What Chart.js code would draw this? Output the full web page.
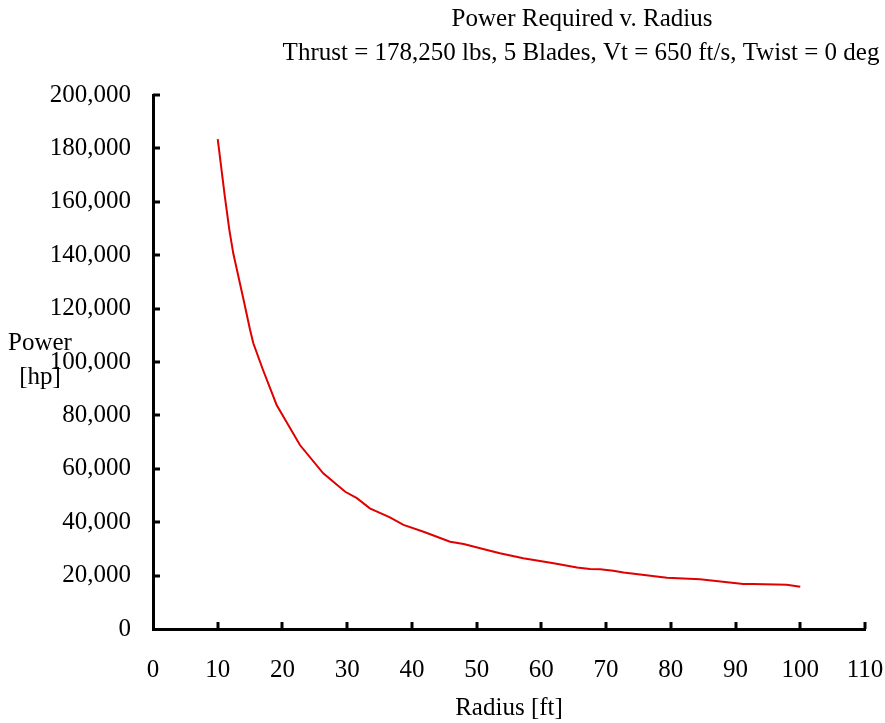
<!DOCTYPE html>
<html>
<head>
<meta charset="utf-8">
<script src="https://cdn.jsdelivr.net/npm/chart.js@4"></script>
<style>
  html, body { margin: 0; padding: 0; background: #fff; }
  #wrap { width: 885px; height: 723px; }
</style>
</head>
<body>
<div id="wrap"><canvas id="grafico"></canvas></div>
<script>
'use strict'

// radius [ft] and power [hp]
const radius = [10, 11.1, 11.8, 12.4, 14, 15, 15.5, 17, 19.1, 22.7, 26.3, 29.7, 31.5, 33.5, 36.6, 38.7,
  41.8, 45.9, 48, 51.6, 53.6, 57.2, 61.9, 65.5, 67.5, 69.1, 71.1, 72.7, 79.4, 84.5, 91.2, 92.7, 97.9, 100];
const power = [183500, 161900, 149400, 140700, 123200, 112000, 107000, 97000, 83900, 68900, 58300, 51400,
  49000, 45200, 41800, 39000, 36400, 32700, 31800, 29600, 28350, 26500, 24600, 23000, 22500, 22350,
  21850, 21200, 19200, 18600, 16850, 16850, 16600, 15850];

const titleLines = ['Power Required v. Radius', 'Thrust = 178,250 lbs, 5 Blades, Vt = 650 ft/s, Twist = 0 deg'];
const yLabelLines = ['Power', '[hp]'];
const xLabel = 'Radius [ft]';

const serif = '"Liberation Serif", "Times New Roman", serif';

// inward tick marks + title + y label drawn as text
const extras = {
  id: 'extras',
  afterDraw(chart) {
    const ctx = chart.ctx;
    const xs = chart.scales.x, ys = chart.scales.y;
    const area = chart.chartArea;
    ctx.save();
    ctx.strokeStyle = '#000';
    ctx.lineWidth = 3;
    xs.ticks.forEach(t => {
      const px = Math.round(xs.getPixelForValue(t.value));
      if (t.value === 0) return;
      ctx.beginPath();
      ctx.moveTo(px, area.bottom);
      ctx.lineTo(px, area.bottom - 7);
      ctx.stroke();
    });
    ys.ticks.forEach(t => {
      const py = Math.round(ys.getPixelForValue(t.value));
      if (t.value === 0) return;
      ctx.beginPath();
      ctx.moveTo(area.left, py);
      ctx.lineTo(area.left + 7, py);
      ctx.stroke();
    });

    ctx.fillStyle = '#000';
    ctx.textAlign = 'center';
    ctx.textBaseline = 'alphabetic';
    ctx.font = '25px ' + serif;
    ctx.fillText(titleLines[0], 582, 26);
    ctx.fillText(titleLines[1], 581, 60);

    ctx.font = '25px ' + serif;
    ctx.fillText(yLabelLines[0], 40, 350);
    ctx.fillText(yLabelLines[1], 40, 384);
    ctx.restore();
  }
};

const data = {
  datasets: [{
    label: 'Power',
    data: radius.map((r, i) => ({ x: r, y: power[i] })),
    borderColor: '#e00000',
    borderWidth: 2,
    pointRadius: 0,
    tension: 0,
    fill: false
  }]
};

const config = {
  type: 'line',
  data,
  options: {
    responsive: true,
    maintainAspectRatio: false,
    animation: false,
    layout: { padding: { top: 95, right: 20, left: 0, bottom: 0 } },
    plugins: {
      legend: { display: false },
      tooltip: { enabled: false }
    },
    scales: {
      x: {
        type: 'linear',
        min: 0,
        max: 110,
        ticks: { stepSize: 10, padding: 0, color: '#000', font: { family: serif, size: 25 } },
        grid: { drawOnChartArea: false, drawTicks: true, tickLength: 26, tickColor: 'rgba(0,0,0,0)' },
        border: { color: '#000', width: 3 },
        title: { display: true, text: xLabel, color: '#000', padding: { top: 10, bottom: 0 }, font: { family: serif, size: 25 } },
        afterFit(s) { s.height = 94; }
      },
      y: {
        min: 0,
        max: 200000,
        ticks: {
          stepSize: 20000,
          padding: 22,
          color: '#000',
          font: { family: serif, size: 25 },
          callback: v => v.toLocaleString('en-US')
        },
        grid: { drawOnChartArea: false, drawTicks: false },
        border: { color: '#000', width: 3 },
        afterFit(s) { s.width = 153; }
      }
    }
  },
  plugins: [extras]
};

const GraficoPotencia = new Chart(document.querySelector('#grafico'), config);
</script>
</body>
</html>
